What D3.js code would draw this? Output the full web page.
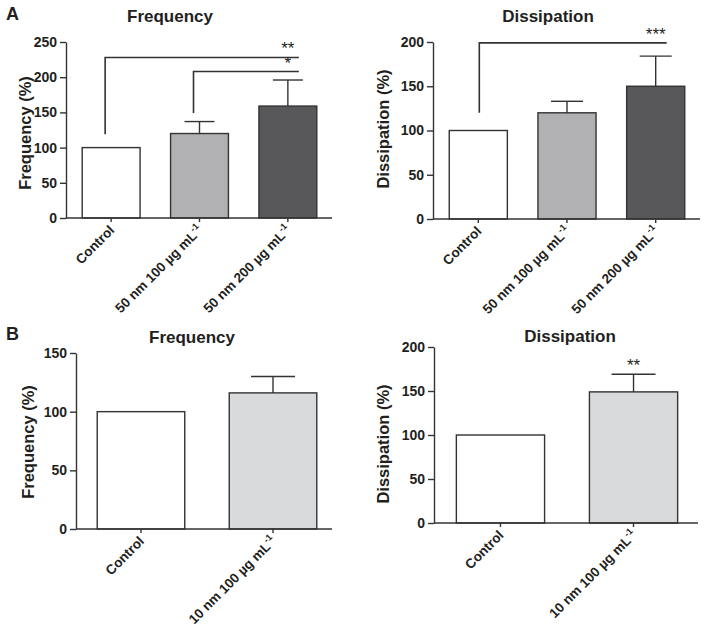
<!DOCTYPE html>
<html>
<head>
<meta charset="utf-8">
<script src="https://cdn.jsdelivr.net/npm/d3@7"></script>
<style>
  html, body { margin: 0; padding: 0; background: #fff; }
  svg { display: block; }
  text { font-family: "Liberation Sans", Arial, Helvetica, sans-serif; fill: #231f20; }
</style>
</head>
<body>
<svg id="chart" width="707" height="631"></svg>
<script>
// ---------- DATA ----------
const categoriesA = ["Control", "50 nm 100 \u00b5g mL", "50 nm 200 \u00b5g mL"];
const freqA = [100, 120, 159];
const freqAErr = [100, 137, 196];
const dissA = [100, 120, 150];
const dissAErr = [100, 133, 184];

const categoriesB = ["Control", "10 nm 100 \u00b5g mL"];
const freqB = [100, 116];
const freqBErr = [100, 130];
const dissB = [100, 149];
const dissBErr = [100, 169];

const superscripts = ["", "-1", "-1"];
const superscriptsB = ["", "-1"];

const ticksFreqA = [0, 50, 100, 150, 200, 250];
const ticksDissA = [0, 50, 100, 150, 200];
const ticksFreqB = [0, 50, 100, 150];
const ticksDissB = [0, 50, 100, 150, 200];

const colorsA = ["#ffffff", "#b1b1b3", "#58585a"];
const colorsB = ["#ffffff", "#d9dadc"];

// significance brackets: from category index, to category index, bracket level, drop value, label
const sigFreqA = [
  { from: 0, to: 2, level: 228, drop: 119, label: "**" },
  { from: 1, to: 2, level: 208, drop: 149, label: "*" }
];
const sigDissA = [
  { from: 0, to: 2, level: 199, drop: 120, label: "***" }
];
const sigDissB = [
  { at: 1, value: 169, label: "**" }
];

// ---------- LAYOUT ----------
const svg = d3.select("#chart");
const ink = "#333333";

const panels = [
  { title: "Frequency", ylabel: "Frequency (%)", cats: categoriesA, sups: superscripts, vals: freqA, errs: freqAErr,
    colors: colorsA, ticks: ticksFreqA, max: 250, axisX: [66, 332], band: [67, 332], yPx: [218, 42],
    pi: 0.345, po: 0.172, cap: 15, titleX: 170, titleY: 22, ylabX: 25, ylabY: 133, sig: sigFreqA, dropDx: -6, endDx: 11 },
  { title: "Dissipation", ylabel: "Dissipation (%)", cats: categoriesA, sups: superscripts, vals: dissA, errs: dissAErr,
    colors: colorsA, ticks: ticksDissA, max: 200, axisX: [433, 700], band: [434, 700], yPx: [219, 42],
    pi: 0.345, po: 0.172, cap: 16, titleX: 548, titleY: 22, ylabX: 383, ylabY: 129, sig: sigDissA, dropDx: 1, endDx: 11 },
  { title: "Frequency", ylabel: "Frequency (%)", cats: categoriesB, sups: superscriptsB, vals: freqB, errs: freqBErr,
    colors: colorsB, ticks: ticksFreqB, max: 150, axisX: [76, 332], band: [79, 335], yPx: [529, 353],
    pi: 0.337, po: 0.138, cap: 22, titleX: 192, titleY: 343, ylabX: 28, ylabY: 442, sig: [] },
  { title: "Dissipation", ylabel: "Dissipation (%)", cats: categoriesB, sups: superscriptsB, vals: dissB, errs: dissBErr,
    colors: colorsB, ticks: ticksDissB, max: 200, axisX: [434, 698], band: [438, 696], yPx: [523, 347],
    pi: 0.337, po: 0.138, cap: 22, titleX: 570, titleY: 342, ylabX: 383, ylabY: 444, sig: [], stars: sigDissB }
];

panels.forEach(p => {
  const g = svg.append("g");
  const x = d3.scaleBand().domain(p.cats).range(p.band).paddingInner(p.pi).paddingOuter(p.po);
  const y = d3.scaleLinear().domain([0, p.max]).range(p.yPx);
  const cx = c => x(c) + x.bandwidth() / 2;

  // bars
  g.selectAll("rect.bar").data(p.cats).enter().append("rect")
    .attr("x", d => x(d)).attr("width", x.bandwidth())
    .attr("y", (d, i) => y(p.vals[i])).attr("height", (d, i) => y(0) - y(p.vals[i]))
    .attr("fill", (d, i) => p.colors[i]).attr("stroke", ink).attr("stroke-width", 1.4);

  // error bars (upper only)
  p.cats.forEach((c, i) => {
    if (p.errs[i] <= p.vals[i]) return;
    g.append("line").attr("x1", cx(c)).attr("x2", cx(c)).attr("y1", y(p.vals[i])).attr("y2", y(p.errs[i]))
      .attr("stroke", ink).attr("stroke-width", 1.4);
    g.append("line").attr("x1", cx(c) - p.cap).attr("x2", cx(c) + p.cap).attr("y1", y(p.errs[i])).attr("y2", y(p.errs[i]))
      .attr("stroke", ink).attr("stroke-width", 1.4);
  });

  // y axis
  const yAxis = d3.axisLeft(y).tickValues(p.ticks).tickSizeOuter(0).tickSizeInner(6).tickPadding(3);
  const ya = g.append("g").attr("transform", `translate(${p.axisX[0]},0)`).call(yAxis);
  ya.select(".domain").attr("stroke", ink).attr("stroke-width", 1.4);
  ya.selectAll(".tick line").attr("stroke", ink).attr("stroke-width", 1.4);
  ya.selectAll(".tick text").attr("font-size", 14).attr("font-weight", "bold").attr("fill", "#231f20")
    .style("font-family", "'Liberation Sans', Arial, sans-serif");

  // x axis line
  g.append("line").attr("x1", p.axisX[0]).attr("x2", p.axisX[1]).attr("y1", y(0)).attr("y2", y(0))
    .attr("stroke", ink).attr("stroke-width", 1.4);
  // x ticks
  g.selectAll("line.xt").data(p.cats).enter().append("line")
    .attr("x1", d => cx(d)).attr("x2", d => cx(d)).attr("y1", y(0)).attr("y2", y(0) + 4)
    .attr("stroke", ink).attr("stroke-width", 1.4);
  // x labels rotated
  p.cats.forEach((c, i) => {
    const t = g.append("text")
      .attr("transform", `translate(${cx(c) + 4},${y(0) + 13}) rotate(-45)`)
      .attr("text-anchor", "end").attr("font-size", 13.5).attr("font-weight", "bold");
    t.append("tspan").text(c);
    if (p.sups[i]) {
      t.append("tspan").attr("dy", -6).attr("font-size", 9).text(p.sups[i]);
    }
  });

  // title
  g.append("text").attr("x", p.titleX).attr("y", p.titleY).attr("text-anchor", "middle")
    .attr("font-size", 17).attr("font-weight", "bold").text(p.title);
  // y label
  g.append("text").attr("transform", `translate(${p.ylabX},${p.ylabY}) rotate(-90)`)
    .attr("text-anchor", "middle").attr("dy", "0.35em")
    .attr("font-size", 16.5).attr("font-weight", "bold").text(p.ylabel);

  // significance brackets
  p.sig.forEach(s => {
    const xs = cx(p.cats[s.from]) + p.dropDx;
    const xe = cx(p.cats[s.to]) + p.endDx;
    g.append("path")
      .attr("d", `M${xs},${y(s.drop)}V${y(s.level)}H${xe}`)
      .attr("fill", "none").attr("stroke", ink).attr("stroke-width", 1.6);
    g.append("text").attr("x", cx(p.cats[s.to])).attr("y", y(s.level) - 3).attr("text-anchor", "middle")
      .attr("font-size", 17).text(s.label);
  });
  (p.stars || []).forEach(s => {
    g.append("text").attr("x", cx(p.cats[s.at])).attr("y", y(s.value) - 3).attr("text-anchor", "middle")
      .attr("font-size", 17).text(s.label);
  });
});

// panel letters
svg.append("text").attr("x", 6).attr("y", 20).attr("font-size", 18).attr("font-weight", "bold").text("A");
svg.append("text").attr("x", 6).attr("y", 340).attr("font-size", 18).attr("font-weight", "bold").text("B");
</script>
</body>
</html>
